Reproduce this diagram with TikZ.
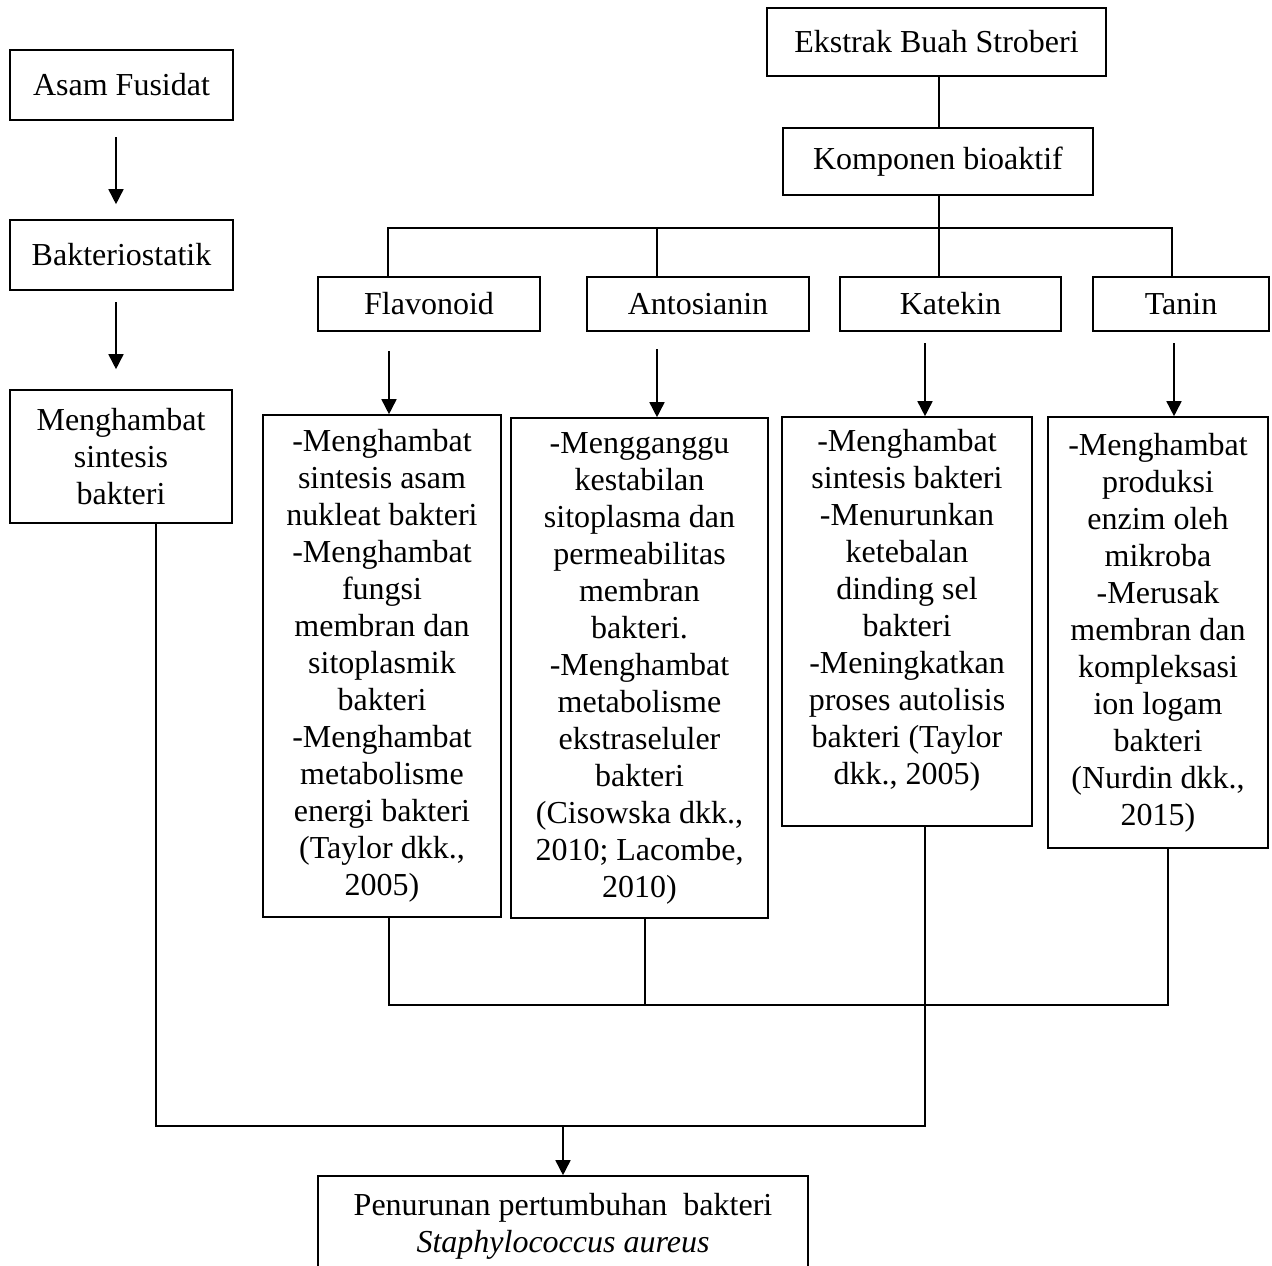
\documentclass[tikz,border=0pt]{standalone}
\usepackage{fontspec}
\setmainfont{Liberation Serif}
\usetikzlibrary{arrows.meta,calc}
\begin{document}
\begin{tikzpicture}[x=1pt,y=-1pt,
  box/.style={draw, line width=1.6pt, rectangle, align=center, inner sep=0pt, font=\fontsize{32}{37}\selectfont},
  plain/.style={align=center, inner sep=0pt, font=\fontsize{32}{37}\selectfont},
  conn/.style={line width=1.6pt},
  arr/.style={line width=1.6pt, -{Triangle[length=15pt,width=15pt]}}]
\useasboundingbox (0,0) rectangle (1272,1266);
\fill[white] (0,0) rectangle (1272,1266);
\clip (0,0) rectangle (1272,1266);

% left column
\node[box, minimum width=223pt, minimum height=70pt] (asam) at (121.5,85) {Asam Fusidat};
\node[box, minimum width=223pt, minimum height=70pt] (bakt) at (121.5,255) {Bakteriostatik};
\node[box, minimum width=222pt, minimum height=133pt] (mlb) at (121,456.5) {Menghambat\\sintesis\\bakteri};

% right top
\node[box, minimum width=339pt, minimum height=68pt] (ekstrak) at (936.5,42) {Ekstrak Buah Stroberi};
\node[box, minimum width=310pt, minimum height=67pt] (komp) at (938,161.5) {Komponen bioaktif};

% categories
\node[box, minimum width=222pt, minimum height=54pt] (flav) at (429,304) {Flavonoid};
\node[box, minimum width=222pt, minimum height=54pt] (anto) at (698,304) {Antosianin};
\node[box, minimum width=221pt, minimum height=54pt] (kat) at (950.5,304) {Katekin};
\node[box, minimum width=176pt, minimum height=54pt] (tan) at (1181,304) {Tanin};

% descriptions
\node[box, minimum width=238pt, minimum height=502pt] (flavd) at (382,666) {-Menghambat\\sintesis asam\\nukleat bakteri\\-Menghambat\\fungsi\\membran dan\\sitoplasmik\\bakteri\\-Menghambat\\metabolisme\\energi bakteri\\(Taylor dkk.,\\2005)};
\node[box, minimum width=257pt, minimum height=500pt] (antod) at (639.5,668) {-Mengganggu\\kestabilan\\sitoplasma dan\\permeabilitas\\membran\\bakteri.\\-Menghambat\\metabolisme\\ekstraseluler\\bakteri\\(Cisowska dkk.,\\2010; Lacombe,\\2010)};
\node[box, minimum width=250pt, minimum height=409pt] (katd) at (907,621.5) {};
\node[plain] (katt) at (907,610) {-Menghambat\\sintesis bakteri\\-Menurunkan\\ketebalan\\dinding sel\\bakteri\\-Meningkatkan\\proses autolisis\\bakteri (Taylor\\dkk., 2005)};
\node[box, minimum width=220pt, minimum height=431pt] (tand) at (1158,632.5) {-Menghambat\\produksi\\enzim oleh\\mikroba\\-Merusak\\membran dan\\kompleksasi\\ion logam\\bakteri\\(Nurdin dkk.,\\2015)};

% result
\node[box, minimum width=490pt, minimum height=100pt] (hasil) at (563,1226) {Penurunan pertumbuhan\ \ bakteri\\\textit{Staphylococcus aureus}};

% left arrows
\coordinate (l1) at (116,137);
\coordinate (l2) at (116,302);
\draw[arr, shorten >=15pt] (l1) -- (l1 |- bakt.north);
\draw[arr, shorten >=20pt] (l2) -- (l2 |- mlb.north);

% top tree
\draw[conn] (komp.north -| 939,0) -- (ekstrak.south -| 939,0);
\coordinate (bf) at (388,228);
\coordinate (ba) at (657,228);
\coordinate (bk) at (939,228);
\coordinate (bt) at (1172,228);
\draw[conn] (komp.south -| bk) -- (bk) -- (bk |- kat.north);
\draw[conn] (bf |- flav.north) -- (bf) -- (bt) -- (bt |- tan.north);
\draw[conn] (ba) -- (ba |- anto.north);

% arrows to descriptions
\coordinate (af) at (389,351);
\coordinate (aa) at (657,349);
\coordinate (ak) at (925,343);
\coordinate (at) at (1174,343);
\draw[arr] (af) -- (af |- flavd.north);
\draw[arr] (aa) -- (aa |- antod.north);
\draw[arr] (ak) -- (ak |- katd.north);
\draw[arr] (at) -- (at |- tand.north);

% bottom joins
\coordinate (m1) at (389,1005);
\coordinate (m2) at (645,1005);
\coordinate (m3) at (1168,1005);
\draw[conn] (m1 |- flavd.south) -- (m1) -- (m3) -- (m3 |- tand.south);
\draw[conn] (m2 |- antod.south) -- (m2);
\coordinate (b1) at (156,1126);
\coordinate (b2) at (925,1126);
\draw[conn] (b1 |- mlb.south) -- (b1) -- (b2) -- (b2 |- katd.south);
\draw[arr] (hasil.north |- b1) -- (hasil.north);
\end{tikzpicture}
\end{document}
